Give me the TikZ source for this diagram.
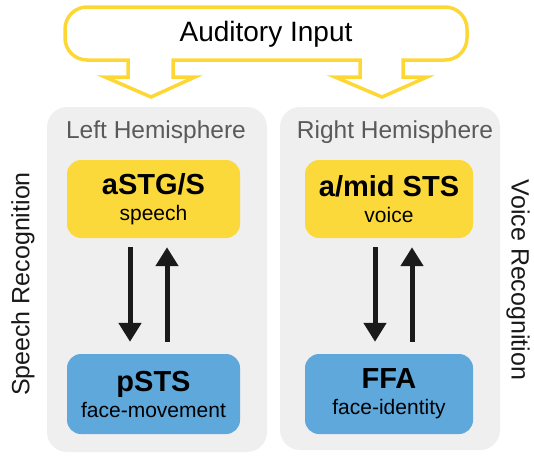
\documentclass[tikz,border=0pt]{standalone}
\usepackage{fontspec}
\setmainfont{Liberation Sans}
\usetikzlibrary{arrows.meta}
\definecolor{inyellow}{HTML}{FDD835}
\definecolor{boxyellow}{HTML}{FCD93A}
\definecolor{boxblue}{HTML}{5EA8DC}
\definecolor{panelgray}{HTML}{EFEFEF}
\definecolor{hemigray}{HTML}{5A5A5A}
\definecolor{arrowblack}{HTML}{1A1A1A}
\tikzset{
  panel/.style={fill=panelgray, draw=none, rounded corners=20pt, minimum width=220pt, inner sep=0pt},
  region/.style={rounded corners=14pt, draw=none, inner sep=0pt, align=center,
     font=\fontsize{21}{26}\selectfont, text=black},
  hemi/.style={font=\fontsize{24.5}{28}\selectfont, text=hemigray, inner sep=0pt},
  side/.style={font=\fontsize{25}{28}\selectfont, text=black!90, inner sep=0pt},
  conn/.style={line width=5pt, draw=arrowblack, -{Triangle[width=22pt,length=19pt]}},
  title/.style={font=\fontsize{29}{26}\selectfont\bfseries}
}
\newcommand{\boxtitle}[1]{{\fontsize{29}{26}\selectfont\bfseries #1}}
\begin{document}
\begin{tikzpicture}[x=1pt,y=-1pt]
\useasboundingbox (0,0) rectangle (534,456);
% input outline
\draw[inyellow, line width=3.5pt, line join=miter]
  (87,7) -- (445,7) arc[start angle=90,end angle=0,radius=22pt]
  -- (467,38) arc[start angle=0,end angle=-90,radius=22pt]
  -- (403,60) -- (403,77) -- (427,77) -- (382,97) -- (335,77) -- (360,77) -- (360,60)
  -- (173,60) -- (173,77) -- (195,77) -- (151,97) -- (105,77) -- (128,77) -- (128,60)
  -- (87,60) arc[start angle=270,end angle=180,radius=22pt]
  -- (65,29) arc[start angle=180,end angle=90,radius=22pt] -- cycle;
\node[font=\fontsize{28}{30}\selectfont, inner sep=0pt] (input) at (266,34) {Auditory Input};
% panels
\node[panel, minimum height=345pt] (lp) at (157,279.5) {};
\node[panel, minimum height=343pt] (rp) at (390,278.5) {};
\node[hemi] (lh) at (156,132) {Left Hemisphere};
\node[hemi] (rh) at (395,132) {Right Hemisphere};
% regions
\node[region, fill=boxyellow, minimum width=173pt, minimum height=78pt] (ly) at (153.5,199) {\boxtitle{aSTG/S}\\speech};
\node[region, fill=boxyellow, minimum width=168pt, minimum height=78pt] (ry) at (389,199) {\boxtitle{a/mid STS}\\voice};
\node[region, fill=boxblue, minimum width=173pt, minimum height=80pt] (lb) at (153.5,394) {\boxtitle{pSTS}\\face-movement};
\node[region, fill=boxblue, minimum width=168pt, minimum height=80pt] (rb) at (389,394) {\boxtitle{FFA}\\face-identity};
% connectors
\draw[conn, shorten <=9pt, shorten >=12pt] ([xshift=-23.5pt]ly.south) -- ([xshift=-23.5pt]lb.north);
\draw[conn, shorten <=12pt, shorten >=9pt] ([xshift=13.5pt]lb.north) -- ([xshift=13.5pt]ly.south);
\draw[conn, shorten <=9pt, shorten >=12pt] ([xshift=-14pt]ry.south) -- ([xshift=-14pt]rb.north);
\draw[conn, shorten <=12pt, shorten >=9pt] ([xshift=23pt]rb.north) -- ([xshift=23pt]ry.south);
% side labels
\node[side, rotate=90] (sr) at (23,284) {Speech Recognition};
\node[side, rotate=-90] (vr) at (518,280) {Voice Recognition};
\end{tikzpicture}
\end{document}
